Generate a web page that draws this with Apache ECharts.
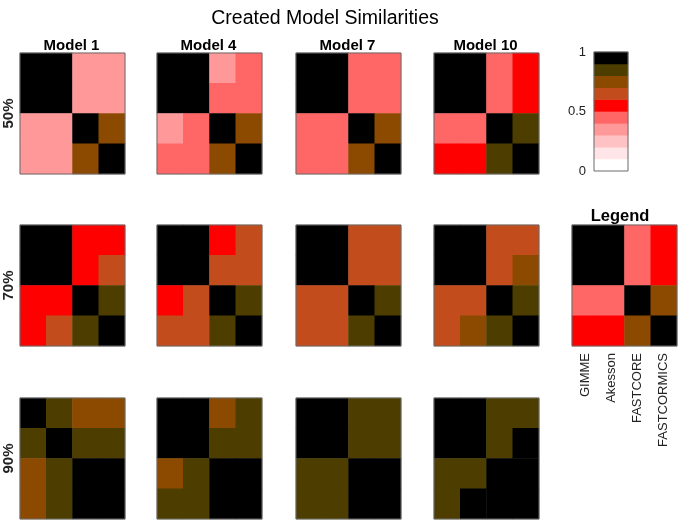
<!DOCTYPE html>
<html>
<head>
<meta charset="utf-8">
<script src="https://cdn.jsdelivr.net/npm/echarts@6/dist/echarts.min.js"></script>
<style>
  html, body { margin: 0; padding: 0; background: #fff; }
  #main { width: 680px; height: 522px; }
</style>
</head>
<body>
<div id="main"></div>
<script>
// methods, in matrix order (rows top->bottom, columns left->right)
var methods = ['GIMME', 'Akesson', 'FASTCORE', 'FASTCORMICS'];
var models = ['Model 1', 'Model 4', 'Model 7', 'Model 10'];
var thresholds = ['50%', '70%', '90%'];

// similarity matrices per threshold, one per model
var sim50 = [
  [[1, 1, 0.35, 0.35], [1, 1, 0.35, 0.35], [0.35, 0.35, 1, 0.75], [0.35, 0.35, 0.75, 1]],
  [[1, 1, 0.35, 0.45], [1, 1, 0.45, 0.45], [0.35, 0.45, 1, 0.75], [0.45, 0.45, 0.75, 1]],
  [[1, 1, 0.45, 0.45], [1, 1, 0.45, 0.45], [0.45, 0.45, 1, 0.75], [0.45, 0.45, 0.75, 1]],
  [[1, 1, 0.45, 0.55], [1, 1, 0.45, 0.55], [0.45, 0.45, 1, 0.85], [0.55, 0.55, 0.85, 1]]
];
var sim70 = [
  [[1, 1, 0.55, 0.55], [1, 1, 0.55, 0.65], [0.55, 0.55, 1, 0.85], [0.55, 0.65, 0.85, 1]],
  [[1, 1, 0.55, 0.65], [1, 1, 0.65, 0.65], [0.55, 0.65, 1, 0.85], [0.65, 0.65, 0.85, 1]],
  [[1, 1, 0.65, 0.65], [1, 1, 0.65, 0.65], [0.65, 0.65, 1, 0.85], [0.65, 0.65, 0.85, 1]],
  [[1, 1, 0.65, 0.65], [1, 1, 0.65, 0.75], [0.65, 0.65, 1, 0.85], [0.65, 0.75, 0.85, 1]]
];
var sim90 = [
  [[1, 0.85, 0.75, 0.75], [0.85, 1, 0.85, 0.85], [0.75, 0.85, 1, 1], [0.75, 0.85, 1, 1]],
  [[1, 1, 0.75, 0.85], [1, 1, 0.85, 0.85], [0.75, 0.85, 1, 1], [0.85, 0.85, 1, 1]],
  [[1, 1, 0.85, 0.85], [1, 1, 0.85, 0.85], [0.85, 0.85, 1, 1], [0.85, 0.85, 1, 1]],
  [[1, 1, 0.85, 0.85], [1, 1, 0.85, 1], [0.85, 0.85, 1, 1], [0.85, 1, 1, 1]]
];
var legendSim = [[1, 1, 0.45, 0.55], [1, 1, 0.45, 0.55], [0.45, 0.45, 1, 0.75], [0.55, 0.55, 0.75, 1]];

// colormap, 10 steps from 0 to 1
var levelColors = ['#ffffff', '#ffe5e8', '#ffc2c4', '#ff9999', '#ff6666',
                   '#ff0000', '#c24c1c', '#8c4a00', '#4d3e00', '#000000'];
var colorbarTicks = [0, 0.5, 1];

var FONT = 'Liberation Sans, Arial, Helvetica, sans-serif';
var colLeft = [20, 157, 296, 434];
var rowTop = [53, 225, 398];
var boxW = 105, boxH = 121;

var grids = [], xAxes = [], yAxes = [], series = [], titles = [];

titles.push({
  text: 'Created Model Similarities', left: 320, top: 4, textAlign: 'center',
  textStyle: { fontFamily: FONT, fontSize: 19.5, fontWeight: 'normal', color: '#000' }
});

function toCells(m) {
  var out = [];
  for (var i = 0; i < m.length; i++) {
    for (var j = 0; j < m[i].length; j++) out.push([j, i, m[i][j]]);
  }
  return out;
}

function addHeat(left, top, m, yName, showLabels) {
  var gi = grids.length;
  grids.push({ left: left, top: top, width: boxW, height: boxH, show: true, z: 10,
    backgroundColor: 'transparent', borderColor: '#6b6b6b', borderWidth: 1 });
  xAxes.push({ type: 'category', gridIndex: gi, data: methods,
    axisLine: { show: false },
    axisTick: { show: !!showLabels, inside: true, length: 3, alignWithLabel: true, lineStyle: { color: '#555' } },
    axisLabel: showLabels ? { show: true, rotate: 90, margin: 7, fontFamily: FONT, fontSize: 13, color: '#222' } : { show: false },
    splitLine: { show: false } });
  yAxes.push({ type: 'category', gridIndex: gi, data: methods, inverse: true,
    axisLine: { show: false }, axisTick: { show: false }, axisLabel: { show: false },
    name: yName || '', nameLocation: 'middle', nameGap: 4, nameRotate: 90,
    nameTextStyle: { fontFamily: FONT, fontSize: 15, fontWeight: 'bold', color: '#222' } });
  series.push({ type: 'heatmap', xAxisIndex: gi, yAxisIndex: yAxes.length - 1,
    data: toCells(m), itemStyle: { borderWidth: 0 }, emphasis: { disabled: true } });
}

var simSets = [sim50, sim70, sim90];
for (var r = 0; r < 3; r++) {
  for (var c = 0; c < 4; c++) {
    addHeat(colLeft[c], rowTop[r], simSets[r][c], c === 0 ? thresholds[r] : '', false);
  }
}
for (var c2 = 0; c2 < 4; c2++) {
  titles.push({ text: models[c2], left: colLeft[c2] + boxW / 2 - 6, top: 33, textAlign: 'center',
    textStyle: { fontFamily: FONT, fontSize: 15, fontWeight: 'bold', color: '#000' } });
}

// legend heatmap
addHeat(572, 225, legendSim, '', true);
titles.push({ text: 'Legend', left: 615, top: 203, textAlign: 'center',
  textStyle: { fontFamily: FONT, fontSize: 16.5, fontWeight: 'bold', color: '#000' } });

// colorbar
var cbGrid = grids.length;
grids.push({ left: 594, top: 52, width: 34, height: 119, show: true, z: 10,
  backgroundColor: 'transparent', borderColor: '#6b6b6b', borderWidth: 1 });
var levelIdx = levelColors.map(function (_, i) { return i; });
xAxes.push({ type: 'category', gridIndex: cbGrid, data: ['cb'], show: false });
yAxes.push({ type: 'category', gridIndex: cbGrid, data: levelIdx, show: false });
var cbCat = yAxes.length - 1;
yAxes.push({ type: 'value', gridIndex: cbGrid, min: colorbarTicks[0], max: colorbarTicks[2], interval: 0.5,
  position: 'left', axisLine: { show: false }, splitLine: { show: false },
  axisTick: { show: false },
  axisLabel: { margin: 8, fontFamily: FONT, fontSize: 13, color: '#222' } });
series.push({ type: 'heatmap', xAxisIndex: xAxes.length - 1, yAxisIndex: cbCat,
  data: levelIdx.map(function (i) { return [0, i, (i + 0.5) / 10]; }),
  itemStyle: { borderWidth: 0 }, emphasis: { disabled: true } });

var pieces = levelColors.map(function (col, i) {
  var p = { gte: i / 10, color: col };
  if (i < 9) p.lt = (i + 1) / 10; else p.lte = 1;
  return p;
});

var chart = echarts.init(document.getElementById('main'));
chart.setOption({
  animation: false,
  backgroundColor: '#ffffff',
  title: titles,
  grid: grids,
  xAxis: xAxes,
  yAxis: yAxes,
  visualMap: { type: 'piecewise', show: false, pieces: pieces,
    seriesIndex: series.map(function (_, i) { return i; }) },
  series: series
});
</script>
</body>
</html>
